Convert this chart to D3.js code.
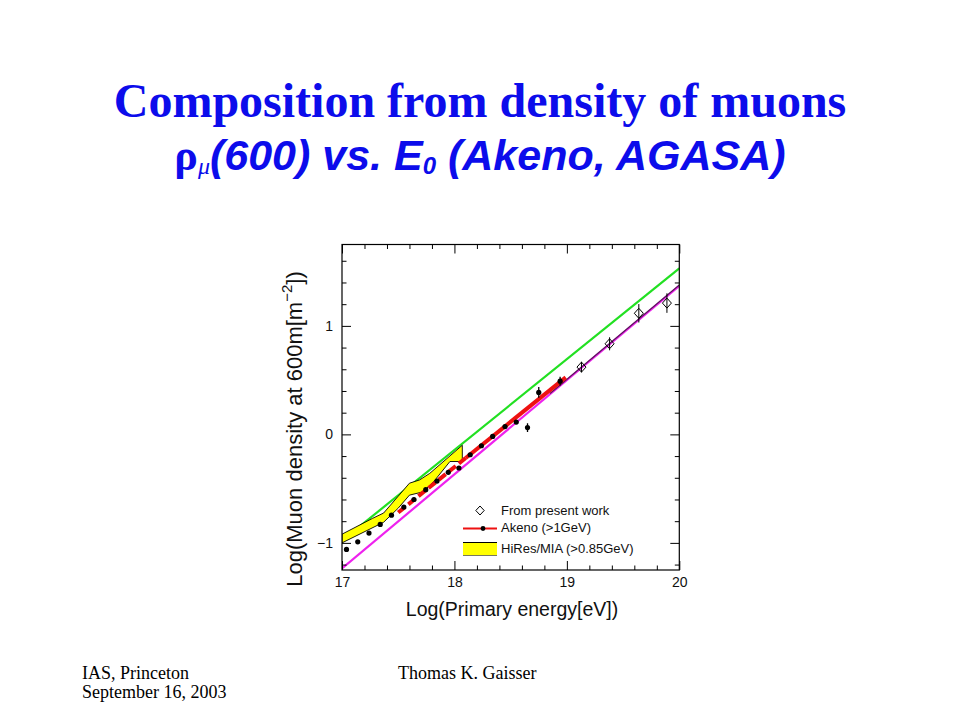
<!DOCTYPE html>
<html><head><meta charset="utf-8">
<script src="https://cdn.jsdelivr.net/npm/d3@7"></script>
<style>html,body{margin:0;padding:0;background:#fff;}svg{display:block;}</style>
</head><body>
<svg id="c" width="960" height="720"></svg>
<script>
// ---- data ----
const xMajorTicks = [17, 18, 19, 20];
const yMajorTicks = [-1, 0, 1];
const xMinorTicks = [17.2,17.4,17.6,17.8,18.2,18.4,18.6,18.8,19.2,19.4,19.6,19.8];
const yMinorTicks = [-1.2,-0.8,-0.6,-0.4,-0.2,0.2,0.4,0.6,0.8,1.2,1.4,1.6];

// Akeno (>1GeV) points
const akenoX = [17.04,17.14,17.24,17.34,17.44,17.55,17.64,17.745,17.845,17.945,18.04,18.14,18.24,18.34,18.45,18.55,18.65,18.75,18.94];
const akenoY = [-1.06,-0.99,-0.91,-0.83,-0.745,-0.67,-0.60,-0.51,-0.43,-0.35,-0.31,-0.188,-0.105,-0.019,0.072,0.113,0.063,0.387,0.49];
const akenoErr = [0,0,0,0,0,0,0,0,0,0,0,0,0,0,0,0,0.04,0.05,0.04];

// Akeno fit line (dashed part, solid part)
const akenoFitDashX = [17.5, 18.1];
const akenoFitDashY = [-0.72, -0.218];
const akenoFitX = [18.1, 18.99];
const akenoFitY = [-0.218, 0.525];

// From present work
const presentX = [19.13, 19.38, 19.64, 19.89];
const presentY = [0.62, 0.835, 1.116, 1.21];
const presentErr = [0.05, 0.06, 0.085, 0.09];
const presentFitX = [18.85, 20];
const presentFitY = [0.376, 1.377];

// Model lines
const ironX = [17, 20];
const ironY = [-0.98, 1.53];
const protonX = [17, 20];
const protonY = [-1.236, 1.368];

// HiRes/MIA band
const bandUpperX = [17.0, 17.27, 17.37, 17.5, 17.6, 17.69, 17.78, 18.07];
const bandUpperY = [-0.92, -0.775, -0.725, -0.57, -0.45, -0.42, -0.36, -0.10];
const bandLowerX = [17.0, 17.37, 17.5, 17.6, 17.72, 17.82, 17.96, 18.07];
const bandLowerY = [-1.0, -0.81, -0.68, -0.56, -0.53, -0.43, -0.25, -0.25];

const legendLabels = ["From present work", "Akeno (>1GeV)", "HiRes/MIA (>0.85GeV)"];

// ---- drawing ----
const svg = d3.select("#c");
const L = 342, R = 679.3, T = 244.5, B = 570;
const x = d3.scaleLinear().domain([17, 20]).range([L, R]);
const y = d3.scaleLinear().domain([-1.25, 1.75]).range([B, T]);
const line = d3.line().x(d => x(d[0])).y(d => y(d[1]));
const zip = (a, b) => a.map((v, i) => [v, b[i]]);

// title
const blue = "#0c0ceb";
svg.append("text").attr("x", 480).attr("y", 117).attr("text-anchor", "middle")
  .attr("font-family", "'Liberation Serif','Times New Roman',serif").attr("font-weight", "bold")
  .attr("font-size", 48).attr("fill", blue).text("Composition from density of muons");
const t2 = svg.append("text").attr("x", 480).attr("y", 170).attr("text-anchor", "middle")
  .attr("font-family", "'Liberation Sans',Arial,sans-serif").attr("font-weight", "bold")
  .attr("font-size", 43).attr("fill", blue);
t2.append("tspan").attr("font-family", "'Liberation Serif',serif").attr("font-weight", "bold").attr("font-size", 44).text("ρ");
t2.append("tspan").attr("font-family", "'Liberation Serif',serif").attr("font-style", "italic").attr("font-weight", "normal").attr("font-size", 24).attr("dy", 4).text("μ");
t2.append("tspan").attr("font-style", "italic").attr("dy", -4).text("(600) vs. E");
t2.append("tspan").attr("font-style", "italic").attr("font-size", 24).attr("dy", 4).text("0");
t2.append("tspan").attr("font-style", "italic").attr("dy", -4).text(" (Akeno, AGASA)");

// footer
const foot = {"font-family": "'Liberation Serif','Times New Roman',serif", "font-size": 18, "fill": "#000"};
function ft(xp, yp, s) { const t = svg.append("text").attr("x", xp).attr("y", yp).text(s); for (const k in foot) t.attr(k, foot[k]); }
ft(82, 679, "IAS, Princeton");
ft(82, 698, "September 16, 2003");
ft(398, 679, "Thomas K. Gaisser");

// plot group
const g = svg.append("g");
const clip = svg.append("clipPath").attr("id", "pc");
clip.append("rect").attr("x", L).attr("y", T).attr("width", R - L).attr("height", B - T);
const pg = g.append("g").attr("clip-path", "url(#pc)");

// green (iron) line
pg.append("path").attr("d", line(zip(ironX, ironY))).attr("stroke", "#22e022").attr("stroke-width", 2.2).attr("fill", "none");
// magenta (proton) line
pg.append("path").attr("d", line(zip(protonX, protonY))).attr("stroke", "#ee22ee").attr("stroke-width", 2.2).attr("fill", "none");
// yellow band
const bandPts = zip(bandUpperX, bandUpperY).concat(zip(bandLowerX, bandLowerY).reverse());
pg.append("path").attr("d", line(bandPts) + "Z").attr("fill", "#ffff00").attr("stroke", "#000").attr("stroke-width", 0.9);
// present-work fit line
pg.append("path").attr("d", line(zip(presentFitX, presentFitY))).attr("stroke", "#5a1a5a").attr("stroke-width", 1.2).attr("fill", "none");
// Akeno fit (red)
pg.append("path").attr("d", line(zip(akenoFitDashX, akenoFitDashY))).attr("stroke", "#ee1111").attr("stroke-width", 4).attr("stroke-dasharray", "9,4").attr("fill", "none");
pg.append("path").attr("d", line(zip(akenoFitX, akenoFitY))).attr("stroke", "#ee1111").attr("stroke-width", 4).attr("fill", "none");

// Akeno points
akenoX.forEach((xv, i) => {
  if (akenoErr[i] > 0) pg.append("line").attr("x1", x(xv)).attr("x2", x(xv))
    .attr("y1", y(akenoY[i] - akenoErr[i])).attr("y2", y(akenoY[i] + akenoErr[i])).attr("stroke", "#000").attr("stroke-width", 1.3);
  pg.append("circle").attr("cx", x(xv)).attr("cy", y(akenoY[i])).attr("r", 2.6).attr("fill", "#000");
});
// present-work diamonds
const dia = (cx, cy, w, h) => `M${cx},${cy - h}L${cx + w},${cy}L${cx},${cy + h}L${cx - w},${cy}Z`;
presentX.forEach((xv, i) => {
  pg.append("line").attr("x1", x(xv)).attr("x2", x(xv))
    .attr("y1", y(presentY[i] - presentErr[i])).attr("y2", y(presentY[i] + presentErr[i])).attr("stroke", "#000").attr("stroke-width", 1);
  pg.append("path").attr("d", dia(x(xv), y(presentY[i]), 4.5, 5)).attr("fill", "none").attr("stroke", "#000").attr("stroke-width", 1);
});

// axes (ticks inward, all four sides)
const tickFont = "'Liberation Sans',Arial,sans-serif";
function styleAxis(sel) { sel.select(".domain").remove(); sel.selectAll("line").attr("stroke", "#000").attr("stroke-width", 1); sel.selectAll("text").attr("font-family", tickFont).attr("font-size", 14).attr("fill", "#111"); }
g.append("g").attr("transform", `translate(0,${B})`).call(d3.axisBottom(x).tickValues(xMinorTicks).tickSize(-4.5).tickFormat("")).call(styleAxis);
g.append("g").attr("transform", `translate(0,${B})`).call(d3.axisBottom(x).tickValues(xMajorTicks).tickSize(-9).tickPadding(7).tickFormat(d3.format("d"))).call(styleAxis);
g.append("g").attr("transform", `translate(0,${T})`).call(d3.axisTop(x).tickValues(xMinorTicks).tickSize(-4.5).tickFormat("")).call(styleAxis);
g.append("g").attr("transform", `translate(0,${T})`).call(d3.axisTop(x).tickValues(xMajorTicks).tickSize(-9).tickFormat("")).call(styleAxis);
g.append("g").attr("transform", `translate(${L},0)`).call(d3.axisLeft(y).tickValues(yMinorTicks).tickSize(-4.5).tickFormat("")).call(styleAxis);
g.append("g").attr("transform", `translate(${L},0)`).call(d3.axisLeft(y).tickValues(yMajorTicks).tickSize(-9).tickPadding(9).tickFormat(d3.format("d"))).call(styleAxis);
g.append("g").attr("transform", `translate(${R},0)`).call(d3.axisRight(y).tickValues(yMinorTicks).tickSize(-4.5).tickFormat("")).call(styleAxis);
g.append("g").attr("transform", `translate(${R},0)`).call(d3.axisRight(y).tickValues(yMajorTicks).tickSize(-9).tickFormat("")).call(styleAxis);
g.append("rect").attr("x", L).attr("y", T).attr("width", R - L).attr("height", B - T).attr("fill", "none").attr("stroke", "#000").attr("stroke-width", 1.2);

// axis titles
svg.append("text").attr("x", 512).attr("y", 616).attr("text-anchor", "middle").attr("font-family", tickFont)
  .attr("font-size", 19.5).attr("fill", "#111").text("Log(Primary energy[eV])");
const yl = svg.append("text").attr("transform", "translate(302,429) rotate(-90)").attr("text-anchor", "middle")
  .attr("font-family", tickFont).attr("font-size", 22).attr("fill", "#111");
yl.append("tspan").text("Log(Muon density at 600m[m");
yl.append("tspan").attr("font-size", 15).attr("dy", -10).text("−2");
yl.append("tspan").attr("dy", 10).text("])");

// legend
const lf = 13;
const lg = svg.append("g");
lg.append("path").attr("d", dia(480, 510.5, 4.2, 4.5)).attr("fill", "none").attr("stroke", "#000").attr("stroke-width", 1);
lg.append("line").attr("x1", 463).attr("x2", 497).attr("y1", 528.5).attr("y2", 528.5).attr("stroke", "#ee1111").attr("stroke-width", 2);
lg.append("circle").attr("cx", 483).attr("cy", 528.5).attr("r", 2.4).attr("fill", "#000");
lg.append("rect").attr("x", 463).attr("y", 542.5).attr("width", 34).attr("height", 13).attr("fill", "#ffff00");
lg.append("line").attr("x1", 463).attr("x2", 497).attr("y1", 542.5).attr("y2", 542.5).attr("stroke", "#000").attr("stroke-width", 1);
lg.append("line").attr("x1", 463).attr("x2", 497).attr("y1", 555.5).attr("y2", 555.5).attr("stroke", "#555").attr("stroke-width", 0.8);
[514.5, 532, 552.5].forEach((yy, i) => lg.append("text").attr("x", 501).attr("y", yy).attr("font-family", tickFont)
  .attr("font-size", lf).attr("fill", "#111").text(legendLabels[i]));
</script>
</body></html>
